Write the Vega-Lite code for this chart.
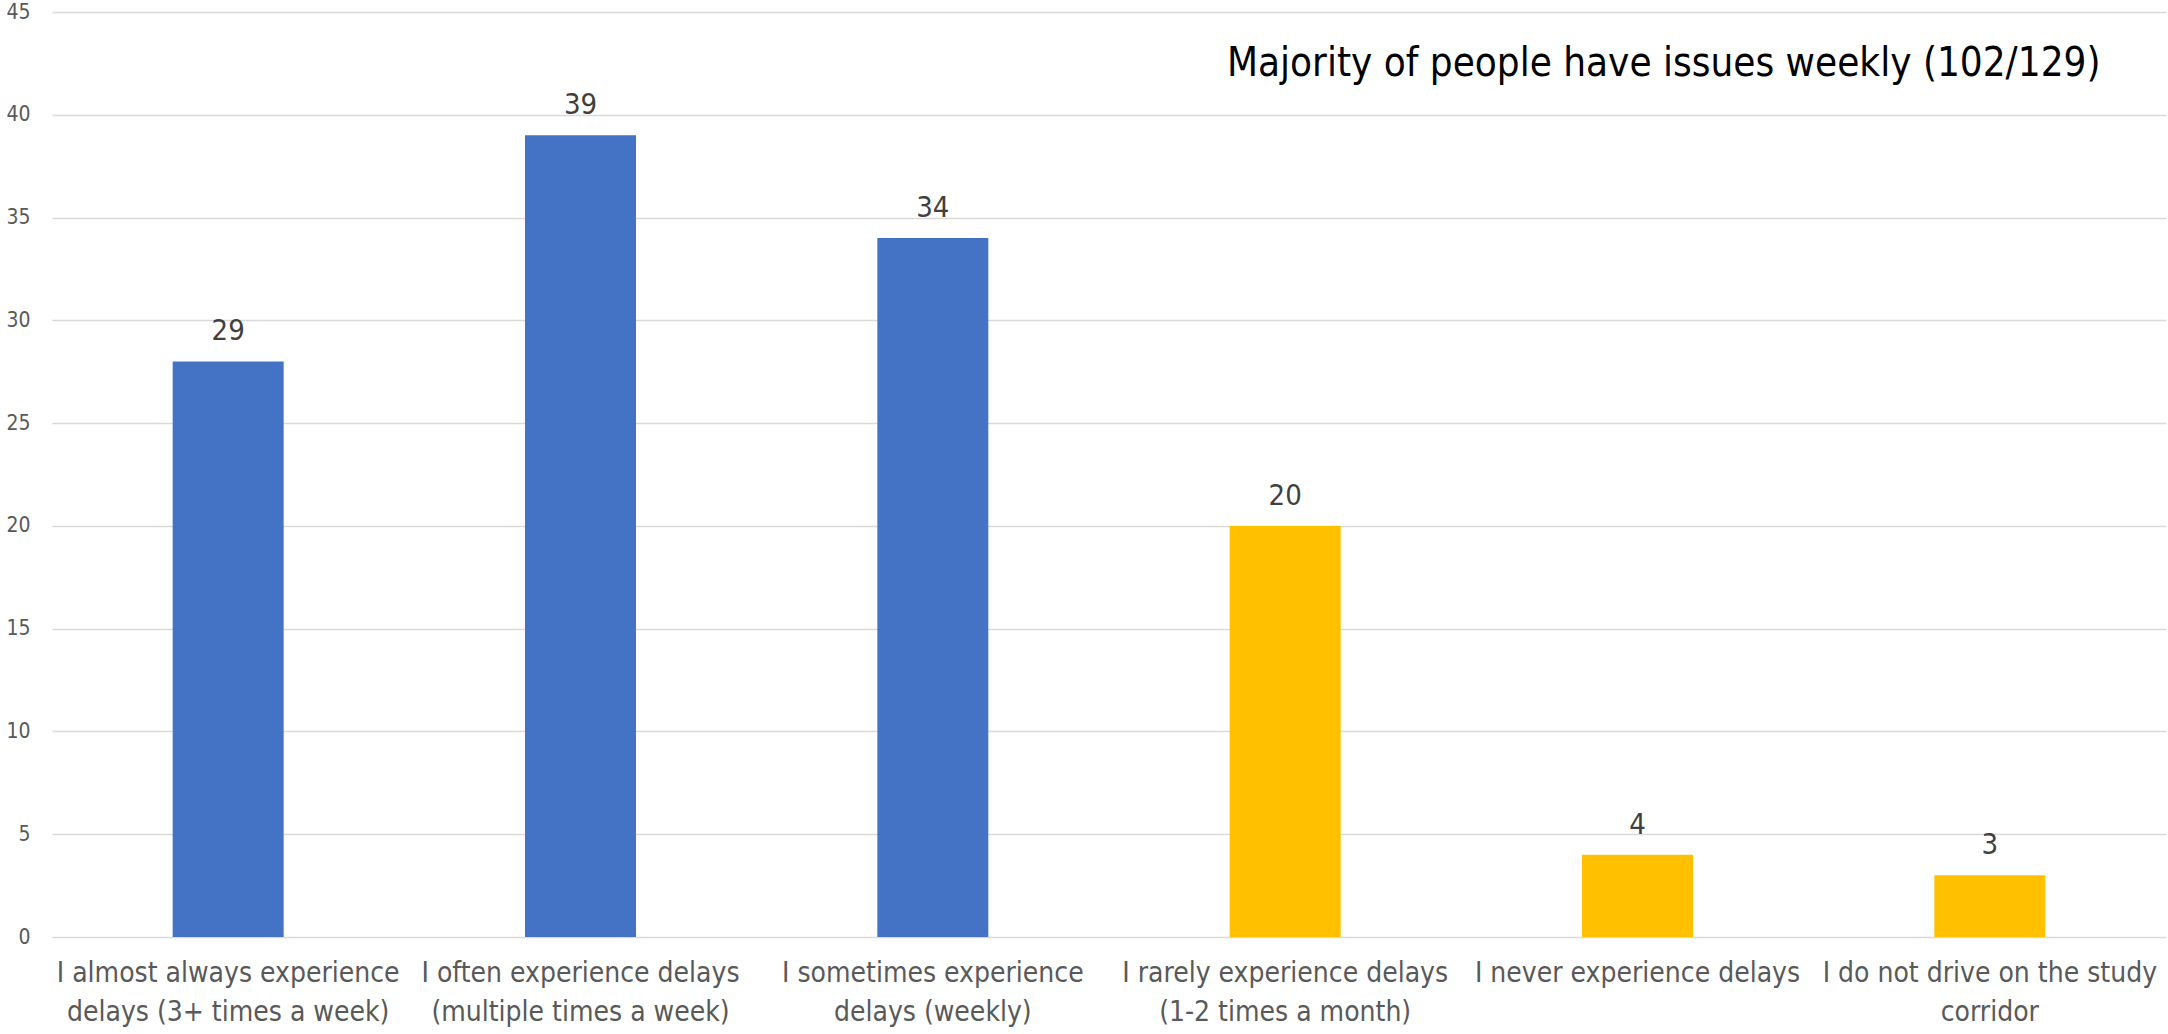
{
  "$schema": "https://vega.github.io/schema/vega-lite/v6.json",
  "width": 2114,
  "height": 925,
  "autosize": {"type": "none"},
  "padding": {"left": 52, "top": 12, "right": 2, "bottom": 97},
  "background": "white",
  "title": {
    "text": "Majority of people have issues weekly (102/129)",
    "anchor": "start",
    "frame": "group",
    "orient": "top",
    "offset": 0,
    "dx": 1175,
    "dy": 115,
    "baseline": "alphabetic",
    "font": "Liberation Sans Narrow, DejaVu Sans Condensed, sans-serif",
    "fontSize": 40,
    "fontWeight": "normal",
    "color": "#000000"
  },
  "config": {
    "view": {"stroke": null},
    "font": "Liberation Sans Narrow, DejaVu Sans Condensed, sans-serif"
  },
  "data": {
    "values": [
      {"cat": "I almost always experience|delays (3+ times a week)", "value": 28, "label": "29", "group": "weekly"},
      {"cat": "I often experience delays|(multiple times a week)", "value": 39, "label": "39", "group": "weekly"},
      {"cat": "I sometimes experience|delays (weekly)", "value": 34, "label": "34", "group": "weekly"},
      {"cat": "I rarely experience delays|(1-2 times a month)", "value": 20, "label": "20", "group": "less"},
      {"cat": "I never experience delays", "value": 4, "label": "4", "group": "less"},
      {"cat": "I do not drive on the study|corridor", "value": 3, "label": "3", "group": "less"}
    ]
  },
  "encoding": {
    "x": {
      "field": "cat",
      "type": "nominal",
      "sort": null,
      "scale": {"paddingInner": 0.685, "paddingOuter": 0.3425},
      "axis": {
        "title": null,
        "labelAngle": 0,
        "labelExpr": "split(datum.label, '|')",
        "labelFont": "Liberation Sans Narrow, DejaVu Sans Condensed, sans-serif",
        "labelFontSize": 28,
        "labelColor": "#595959",
        "labelLineHeight": 39,
        "labelBaseline": "top",
        "labelPadding": 22,
        "labelLimit": 0,
        "ticks": false,
        "domain": false,
        "grid": false
      }
    },
    "y": {
      "field": "value",
      "type": "quantitative",
      "scale": {"domain": [0, 45], "nice": false},
      "axis": {
        "title": null,
        "values": [0, 5, 10, 15, 20, 25, 30, 35, 40, 45],
        "labelFont": "Liberation Sans Narrow, DejaVu Sans Condensed, sans-serif",
        "labelFontSize": 21,
        "labelColor": "#595959",
        "labelPadding": 22,
        "ticks": false,
        "domain": false,
        "grid": true,
        "gridColor": "#D9D9D9",
        "gridWidth": 1.5
      }
    }
  },
  "layer": [
    {
      "mark": {"type": "bar"},
      "encoding": {
        "color": {
          "field": "group",
          "type": "nominal",
          "scale": {"domain": ["weekly", "less"], "range": ["#4472C4", "#FFC000"]},
          "legend": null
        }
      }
    },
    {
      "mark": {
        "type": "text",
        "baseline": "alphabetic",
        "dy": -21,
        "fontSize": 29,
        "color": "#404040"
      },
      "encoding": {"text": {"field": "label"}}
    }
  ]
}
